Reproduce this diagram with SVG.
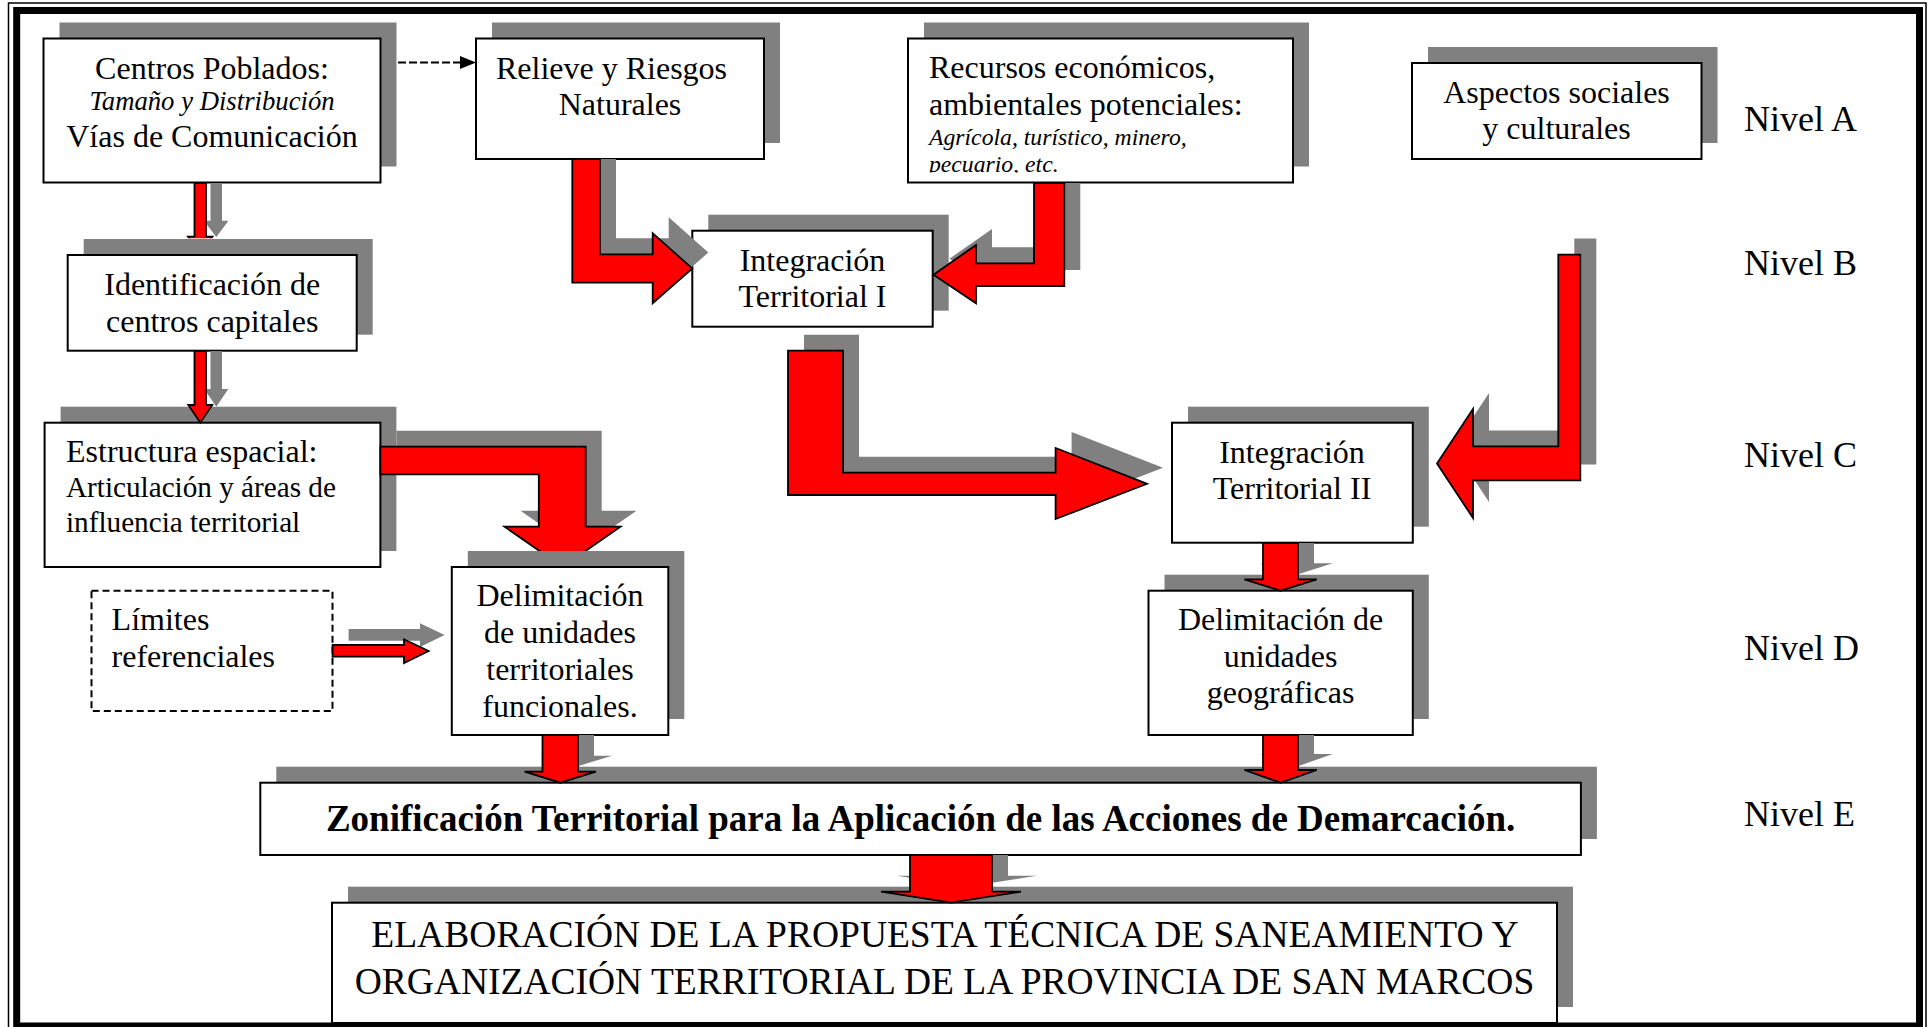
<svg xmlns="http://www.w3.org/2000/svg" width="1928" height="1027" viewBox="0 0 1928 1027">
<style>
.sh{fill:#808080}
.bx{fill:#fff;stroke:#000;stroke-width:2}
.dash{fill:#fff;stroke:#000;stroke-width:2;stroke-dasharray:7 4}
.t{font-family:"Liberation Serif",serif;font-size:32px;fill:#000}
.c{text-anchor:middle}
.i{font-style:italic}
.lv{font-family:"Liberation Serif",serif;font-size:36px;fill:#000}
.ar{fill:#ff0000;stroke:#000;stroke-width:1.8;stroke-linejoin:miter}
.as{fill:#808080}
</style>
<defs>
<clipPath id="clipRec"><rect x="908" y="38" width="385" height="134.5"/></clipPath>
<clipPath id="clipA1"><rect x="150" y="150" width="120" height="88.3"/></clipPath>
<clipPath id="clipA7"><rect x="370" y="400" width="300" height="151"/></clipPath>
</defs>
<rect x="0" y="0" width="1928" height="1027" fill="#fff"/>
<g id="frame" fill="none" stroke="#000">
<rect x="8.5" y="3" width="1917.5" height="1040" stroke-width="1.5"/>
<rect x="16.7" y="10.5" width="1902.8" height="1015.5" stroke-width="7"/>
</g>
<g id="n-centros">
<rect class="sh" x="59.5" y="22.5" width="337" height="144"/>
<rect class="bx" x="43.5" y="38.5" width="337" height="144"/>
<text class="t c" x="212" y="79">Centros Poblados:</text>
<text class="t c i" x="212" y="110" style="font-size:26.7px">Tamaño y Distribución</text>
<text class="t c" x="212" y="146.7">Vías de Comunicación</text>
</g>
<g id="n-relieve">
<rect class="sh" x="492" y="22.5" width="288" height="120.5"/>
<rect class="bx" x="476" y="38.5" width="288" height="120.5"/>
<text class="t c" x="611.5" y="79">Relieve y Riesgos</text>
<text class="t c" x="620" y="115">Naturales</text>
</g>
<g id="n-recursos">
<rect class="sh" x="924" y="22.5" width="385" height="144"/>
<rect class="bx" x="908" y="38.5" width="385" height="144"/>
<g clip-path="url(#clipRec)">
<text class="t" x="929" y="78.3">Recursos económicos,</text>
<text class="t" x="929" y="115">ambientales potenciales:</text>
<text class="t i" x="929" y="145" style="font-size:23.7px">Agrícola, turístico, minero,</text>
<text class="t i" x="929" y="171.5" style="font-size:23.7px">pecuario, etc.</text>
</g>
</g>
<g id="n-aspectos">
<rect class="sh" x="1428" y="47" width="289.5" height="96"/>
<rect class="bx" x="1412" y="63" width="289.5" height="96"/>
<text class="t c" x="1556.5" y="103">Aspectos sociales</text>
<text class="t c" x="1556.5" y="139">y culturales</text>
</g>
<g id="n-ident">
<rect class="sh" x="83.7" y="239" width="289" height="95.7"/>
<rect class="bx" x="67.7" y="255" width="289" height="95.7"/>
<text class="t c" x="212.2" y="295">Identificación de</text>
<text class="t c" x="212.2" y="331.7">centros capitales</text>
</g>
<g id="n-int1">
<rect class="sh" x="708.3" y="214.7" width="240.4" height="96"/>
<rect class="bx" x="692.3" y="230.7" width="240.4" height="96"/>
<text class="t c" x="812.5" y="270.7">Integración</text>
<text class="t c" x="812.5" y="307">Territorial I</text>
</g>
<g id="n-int2">
<rect class="sh" x="1188" y="406.7" width="240.8" height="120"/>
<rect class="bx" x="1172" y="422.7" width="240.8" height="120"/>
<text class="t c" x="1292" y="462.7">Integración</text>
<text class="t c" x="1292" y="499">Territorial II</text>
</g>
<g id="n-estructura">
<rect class="sh" x="60.6" y="406.7" width="335.8" height="144.3"/>
<rect class="bx" x="44.6" y="422.7" width="335.8" height="144.3"/>
<text class="t" x="66" y="461.7">Estructura espacial:</text>
<text class="t" x="66" y="497.3" style="font-size:29.2px">Articulación y áreas de</text>
<text class="t" x="66" y="531.7" style="font-size:29.2px">influencia territorial</text>
</g>
<g id="n-limites">
<rect class="dash" x="91.5" y="590.7" width="241" height="120.3"/>
<text class="t" x="111.6" y="630">Límites</text>
<text class="t" x="111.6" y="667.3">referenciales</text>
</g>
<g id="n-delimf">
<rect class="sh" x="467.8" y="551" width="216.5" height="168"/>
<rect class="bx" x="451.8" y="567" width="216.5" height="168"/>
<text class="t c" x="560" y="606">Delimitación</text>
<text class="t c" x="560" y="643.3">de unidades</text>
<text class="t c" x="560" y="680">territoriales</text>
<text class="t c" x="560" y="716.7">funcionales.</text>
</g>
<g id="n-delimg">
<rect class="sh" x="1164.5" y="574.7" width="264.3" height="144.3"/>
<rect class="bx" x="1148.5" y="590.7" width="264.3" height="144.3"/>
<text class="t c" x="1280.6" y="630">Delimitación de</text>
<text class="t c" x="1280.6" y="666.7">unidades</text>
<text class="t c" x="1280.6" y="703.3">geográficas</text>
</g>
<g id="n-zonif">
<rect class="sh" x="276.3" y="766.7" width="1320.6" height="72.3"/>
<rect class="bx" x="260.3" y="782.7" width="1320.6" height="72.3"/>
<text class="t c" x="920.6" y="831" style="font-size:37px;font-weight:bold">Zonificación Territorial para la Aplicación de las Acciones de Demarcación.</text>
</g>
<g id="n-elab">
<rect class="sh" x="348" y="886.7" width="1225" height="120.3"/>
<rect class="bx" x="332" y="902.7" width="1225" height="120.3"/>
<text class="t c" x="945" y="947" style="font-size:37.5px">ELABORACIÓN DE LA PROPUESTA TÉCNICA DE SANEAMIENTO Y</text>
<text class="t c" x="944.5" y="994" style="font-size:37.5px">ORGANIZACIÓN TERRITORIAL DE LA PROVINCIA DE SAN MARCOS</text>
</g>
<g id="levels">
<text class="lv" x="1744" y="131">Nivel A</text>
<text class="lv" x="1744" y="275">Nivel B</text>
<text class="lv" x="1744" y="467">Nivel C</text>
<text class="lv" x="1744" y="660">Nivel D</text>
<text class="lv" x="1744" y="826">Nivel E</text>
</g>
<g id="connectors">
<line x1="398" y1="62.5" x2="461" y2="62.5" stroke="#000" stroke-width="1.8" stroke-dasharray="8 3"/>
<polygon points="460,56 476,62.5 460,69" fill="#000"/>
<g clip-path="url(#clipA1)">
<polygon class="as" points="210.5,183 222,183 222,220.7 228.5,220.7 216.25,237 204,220.7 210.5,220.7"/>
<polygon class="ar" points="194.5,183 206,183 206,236.7 212.5,236.7 200.25,253 188,236.7 194.5,236.7"/>
</g>
<polygon class="as" points="210.5,351 222,351 222,389 228.3,389 216.3,406.7 204.3,389 210.5,389"/>
<polygon class="ar" points="194.5,351 206,351 206,405 212.3,405 200.3,422.7 188.3,405 194.5,405"/>
<polygon class="as" points="588.3,159 616,159 616,238.3 668.7,238.3 668.7,217.3 708.3,252.5 668.7,287.3 668.7,266.7 588.3,266.7"/>
<polygon class="ar" points="572.3,159 600,159 600,254.3 652.7,254.3 652.7,233.3 692.3,268.5 652.7,303.3 652.7,282.7 572.3,282.7"/>
<polygon class="as" points="1050,183 1080.3,183 1080.3,270 992,270 992,287.3 949.5,258.7 992,229 992,247.3 1050,247.3"/>
<polygon class="ar" points="1034,183 1064.3,183 1064.3,286 976,286 976,303.3 933.5,274.7 976,245 976,263.3 1034,263.3"/>
<polygon class="as" points="1574.3,238.6 1596.3,238.6 1596.3,464.4 1489,464.4 1489,502 1453,447.5 1489,393 1489,430.4 1574.3,430.4"/>
<polygon class="ar" points="1558.3,254.6 1580.3,254.6 1580.3,480.4 1473,480.4 1473,518 1437,463.5 1473,409 1473,446.4 1558.3,446.4"/>
<polygon class="as" points="804,334.7 859,334.7 859,456.7 1071.6,456.7 1071.6,432 1163,467.8 1071.6,503 1071.6,479 804,479"/>
<polygon class="ar" points="788,350.7 843,350.7 843,472.7 1055.6,472.7 1055.6,448 1147,483.8 1055.6,519 1055.6,495 788,495"/>
<g clip-path="url(#clipA7)">
<polygon class="as" points="396.4,430.7 601.7,430.7 601.7,510.7 636.5,510.7 578.5,551 520.5,510.7 554.8,510.7 554.8,458.3 396.4,458.3"/>
<polygon class="ar" points="380.4,446.7 585.7,446.7 585.7,526.7 620.5,526.7 562.5,567 504.5,526.7 538.8,526.7 538.8,474.3 380.4,474.3"/>
</g>
<polygon class="as" points="348.6,629 420,629 420,623.3 444.6,635 420,647 420,640.7 348.6,640.7"/>
<polygon class="ar" points="332.6,645 404,645 404,639.3 428.6,651 404,663 404,656.7 332.6,656.7"/>
<polygon class="as" points="558.5,735 594,735 594,755.7 612,755.7 576.3,766.7 540.6,755.7 558.5,755.7"/>
<polygon class="ar" points="542.5,735 578,735 578,771.7 596,771.7 560.3,782.7 524.6,771.7 542.5,771.7"/>
<polygon class="as" points="1279,543 1314,543 1314,563.3 1332.8,563.3 1296.6,574.7 1260.4,563.3 1279,563.3"/>
<polygon class="ar" points="1263,543 1298,543 1298,579.3 1316.8,579.3 1280.6,590.7 1244.4,579.3 1263,579.3"/>
<polygon class="as" points="1279,735 1314,735 1314,754 1332.8,754 1296.6,766.7 1260.4,754 1279,754"/>
<polygon class="ar" points="1263,735 1298,735 1298,770 1316.8,770 1280.6,782.7 1244.4,770 1263,770"/>
<polygon class="as" points="926,855 1008,855 1008,875.7 1037,875.7 967,886.7 897,875.7 926,875.7"/>
<polygon class="ar" points="910,855 992,855 992,891.7 1021,891.7 951,902.7 881,891.7 910,891.7"/>
</g>
</svg>
